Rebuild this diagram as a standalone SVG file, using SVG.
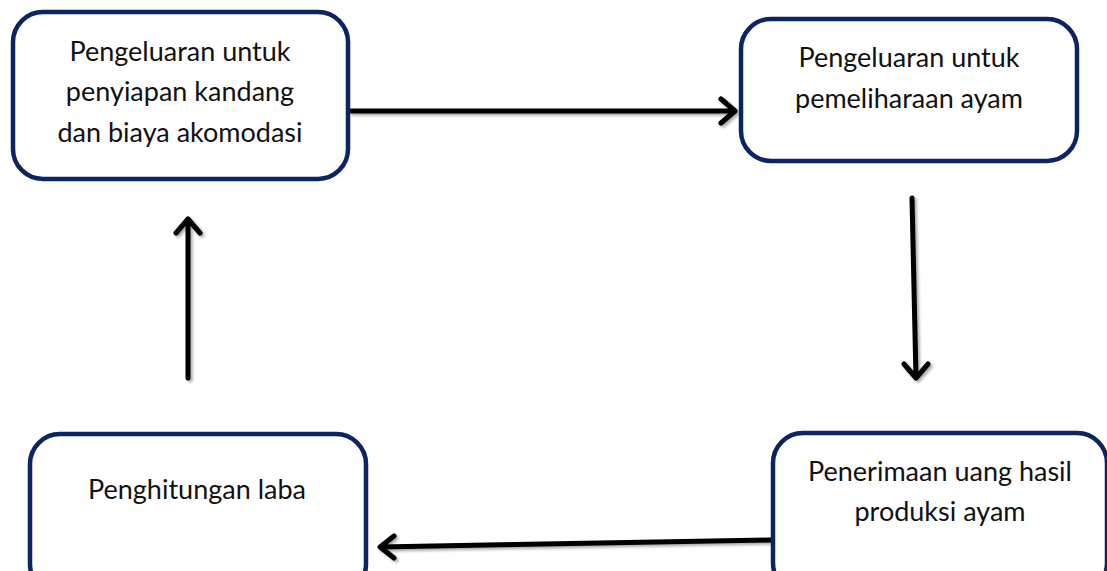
<svg xmlns="http://www.w3.org/2000/svg" width="1107" height="571" viewBox="0 0 1107 571">
<style>
.box{fill:#fff;stroke:#0c2463;stroke-width:4.5}
.t{font-family:Lato,"Open Sans","Liberation Sans",sans-serif;font-size:27px;fill:#111;text-anchor:middle}
.c{fill:none;stroke:#000;stroke-width:5;stroke-linecap:round;stroke-linejoin:round}
</style>
<defs>
<filter id="sh" x="-20%" y="-20%" width="140%" height="140%">
<feGaussianBlur in="SourceAlpha" stdDeviation="1.5"/>
<feOffset dx="1.5" dy="2" result="b"/>
<feComponentTransfer><feFuncA type="linear" slope="0.35"/></feComponentTransfer>
<feMerge><feMergeNode/><feMergeNode in="SourceGraphic"/></feMerge>
</filter>
</defs>
<g id="connectors" filter="url(#sh)">
<path class="c" d="M351,111 L735,111 M721,99 L735,111 L721,123"/>
<path class="c" d="M912,198 L916,378 M904,364 L916,378 L928,364"/>
<path class="c" d="M772,540 L380,547 M394,536 L380,547 L394,558"/>
<path class="c" d="M188,378 L188,219 M176,233 L188,219 L200,233"/>
</g>
<g id="node1">
<rect class="box" x="13" y="12" width="335" height="167" rx="30"/>
<text class="t" x="180" y="61">Pengeluaran untuk</text>
<text class="t" x="180" y="101">penyiapan kandang</text>
<text class="t" x="180" y="142">dan biaya akomodasi</text>
</g>
<g id="node2">
<rect class="box" x="741" y="19" width="336" height="142" rx="30"/>
<text class="t" x="909" y="67">Pengeluaran untuk</text>
<text class="t" x="909" y="108">pemeliharaan ayam</text>
</g>
<g id="node3">
<rect class="box" x="30" y="434" width="336" height="160" rx="30"/>
<text class="t" x="197" y="499">Penghitungan laba</text>
</g>
<g id="node4">
<rect class="box" x="773" y="433" width="334" height="160" rx="30"/>
<text class="t" x="940" y="481">Penerimaan uang hasil</text>
<text class="t" x="940" y="521">produksi ayam</text>
</g>
</svg>
